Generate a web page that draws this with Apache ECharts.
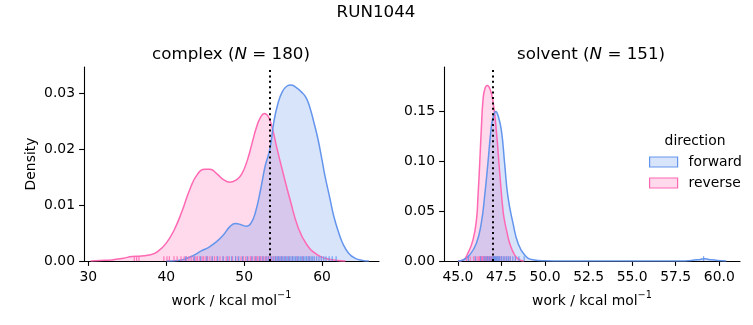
<!DOCTYPE html>
<html>
<head>
<meta charset="utf-8">
<script src="https://cdn.jsdelivr.net/npm/echarts@6/dist/echarts.min.js"></script>
<style>
  html, body { margin: 0; padding: 0; background: #ffffff; }
  #chart { width: 753px; height: 325px; }
</style>
</head>
<body>
<div id="chart"></div>
<script>
// Work distributions (kernel density estimates) for RUN1044, forward vs reverse.

// complex leg: density curves as [work, density]
const complexReverse = [
  [30.3, 0], [31.5, 0.0001], [33.0, 0.0002], [34.5, 0.0005], [35.6, 0.0008], [36.8, 0.0009],
  [38.0, 0.0011], [39.0, 0.0018], [40.0, 0.0032], [41.0, 0.0055], [42.0, 0.0088], [43.0, 0.0127],
  [44.0, 0.0155], [45.0, 0.0164], [45.6, 0.0164], [46.5, 0.0156], [47.3, 0.0146], [48.2, 0.0141],
  [49.0, 0.0145], [49.7, 0.0156], [50.4, 0.0180], [51.0, 0.0210], [51.6, 0.0240], [52.1, 0.0257],
  [52.6, 0.0264], [53.1, 0.0258], [53.6, 0.0238], [54.2, 0.0202], [55.0, 0.0157], [55.9, 0.0109],
  [56.9, 0.0061], [58.0, 0.0030], [59.3, 0.0012], [60.6, 0.0004], [62.0, 0.0001], [63.0, 0]
];
const complexForward = [
  [40.0, 0], [41.5, 0.0001], [42.5, 0.0004], [43.5, 0.0010], [44.5, 0.0018], [45.5, 0.0025],
  [46.5, 0.0035], [47.3, 0.0046], [48.2, 0.0062], [48.9, 0.0067], [49.6, 0.0065], [50.3, 0.0062],
  [50.9, 0.0068], [51.5, 0.0090], [52.1, 0.0127], [52.7, 0.0170], [53.3, 0.0200], [53.8, 0.0248],
  [54.3, 0.0280], [54.9, 0.0303], [55.5, 0.0313], [56.0, 0.0315], [56.6, 0.0311], [57.3, 0.0303],
  [57.9, 0.0293], [58.4, 0.0276], [59.0, 0.0245], [59.5, 0.0216], [60.0, 0.0180], [60.4, 0.0150],
  [61.0, 0.0112], [61.5, 0.0080], [62.1, 0.0052], [62.7, 0.0030], [63.4, 0.0014], [64.2, 0.0005],
  [65.2, 0.0001], [66.0, 0]
];

// solvent leg: density curves as [work, density]
const solventReverse = [
  [45.0, 0], [45.3, 0.001], [45.57, 0.0077], [45.86, 0.021], [46.06, 0.041], [46.15, 0.0646],
  [46.25, 0.098], [46.34, 0.1315], [46.44, 0.1616], [46.55, 0.173], [46.69, 0.176], [46.85, 0.172],
  [47.0, 0.1616], [47.2, 0.1315], [47.4, 0.088], [47.59, 0.050], [47.7, 0.038], [47.8, 0.030],
  [47.97, 0.0178], [48.26, 0.006], [48.55, 0.001], [48.8, 0]
];
const solventForward = [
  [45.0, 0], [45.3, 0.001], [45.67, 0.006], [46.06, 0.0178], [46.34, 0.038], [46.53, 0.0646],
  [46.72, 0.098], [46.92, 0.135], [47.05, 0.146], [47.17, 0.150], [47.3, 0.146], [47.49, 0.1315],
  [47.68, 0.098], [47.87, 0.0646], [48.16, 0.038], [48.45, 0.0178], [48.83, 0.006], [49.3, 0.0012],
  [50.0, 0.0002], [51.0, 0], [57.8, 0], [58.4, 0.0006], [58.9, 0.0016], [59.15, 0.0022],
  [59.4, 0.0016], [59.9, 0.0006], [60.4, 0]
];

// individual work values (rug marks)
const complexReverseRug = [
  35.9, 36.2, 36.5, 39.7, 40.1, 40.4, 41.0, 41.4, 41.9, 42.3, 42.6, 42.9, 43.2, 43.5, 43.8, 44.0,
  44.3, 44.6, 44.8, 45.1, 45.3, 45.6, 45.9, 46.2, 46.5, 46.9, 47.3, 47.7, 48.1, 48.5, 48.9, 49.2,
  49.6, 49.9, 50.2, 50.5, 50.8, 51.0, 51.3, 51.5, 51.7, 51.9, 52.1, 52.3, 52.5, 52.7, 52.9, 53.1,
  53.3, 53.5, 53.8, 54.0, 54.3, 54.6, 54.9, 55.3, 55.7, 56.2, 56.8, 57.5, 58.3
];
const complexForwardRug = [
  42.5, 43.6, 44.4, 45.2, 45.9, 46.6, 47.3, 47.9, 48.4, 48.9, 49.3, 49.8, 50.4, 51.0, 51.5, 52.0,
  52.4, 52.8, 53.1, 53.4, 53.7, 54.0, 54.2, 54.4, 54.6, 54.8, 55.0, 55.2, 55.4, 55.6, 55.8, 56.0,
  56.2, 56.4, 56.6, 56.8, 57.0, 57.2, 57.4, 57.6, 57.8, 58.0, 58.2, 58.4, 58.6, 58.8, 59.0, 59.3,
  59.6, 59.9, 60.2, 60.5, 60.9, 61.3, 61.8
];
const solventReverseRug = [
  45.5, 45.7, 45.9, 46.0, 46.1, 46.2, 46.25, 46.3, 46.35, 46.4, 46.45, 46.5, 46.55, 46.6, 46.65,
  46.7, 46.75, 46.8, 46.85, 46.9, 46.95, 47.0, 47.05, 47.1, 47.2, 47.3, 47.4, 47.5, 47.65, 47.8,
  48.0, 48.3
];
const solventForwardRug = [
  45.6, 46.0, 46.3, 46.5, 46.6, 46.7, 46.8, 46.9, 47.0, 47.05, 47.1, 47.15, 47.2, 47.25, 47.3,
  47.35, 47.4, 47.5, 47.6, 47.7, 47.8, 47.9, 48.0, 48.15, 48.3, 48.5, 48.8, 59.1
];

// reference estimate (dotted vertical line) per leg
const complexMarker = 53.26;
const solventMarker = 47.01;

// axis ticks
const complexXTicks = [30, 40, 50, 60];
const complexYTicks = [0, 0.01, 0.02, 0.03];
const solventXTicks = [45, 47.5, 50, 52.5, 55, 57.5, 60];
const solventYTicks = [0, 0.05, 0.10, 0.15];

const panelTitles = [['complex', 180], ['solvent', 151]];
const directions = ['forward', 'reverse'];

const BLUE = '#6495ED';
const PINK = '#FF69B4';
const FONT = 'DejaVu Sans';
const TICK_FS = 13.9;
const TITLE_FS = 16.7;

const chart = echarts.init(document.getElementById('chart'), null, { renderer: 'canvas' });

const nameRich = {
  n: { fontFamily: FONT, fontSize: TICK_FS, color: '#000', lineHeight: 18, verticalAlign: 'bottom' },
  s: { fontFamily: FONT, fontSize: 9.7, color: '#000', lineHeight: 18, verticalAlign: 'top' }
};

function xAxisCfg(idx, min, max, ticks, fmt) {
  return {
    type: 'value', gridIndex: idx, min: min, max: max,
    name: '{n|work / kcal mol}{s|\u22121}', nameLocation: 'middle', nameGap: 29,
    nameTextStyle: { color: '#000', fontFamily: FONT, fontSize: TICK_FS, rich: nameRich },
    axisLine: { show: true, onZero: false, lineStyle: { color: '#000', width: 1.1 } },
    axisTick: { show: true, length: 4.9, lineStyle: { color: '#000', width: 1.1 }, customValues: ticks },
    axisLabel: { color: '#000', fontFamily: FONT, fontSize: TICK_FS, margin: 9, customValues: ticks, formatter: fmt },
    splitLine: { show: false }
  };
}
function yAxisCfg(idx, max, ticks, name) {
  return {
    type: 'value', gridIndex: idx, min: 0, max: max,
    name: name, nameLocation: 'middle', nameGap: 46,
    nameTextStyle: { color: '#000', fontFamily: FONT, fontSize: TICK_FS },
    axisLine: { show: true, onZero: false, lineStyle: { color: '#000', width: 1.1 } },
    axisTick: { show: true, length: 4.9, lineStyle: { color: '#000', width: 1.1 }, customValues: ticks },
    axisLabel: { color: '#000', fontFamily: FONT, fontSize: TICK_FS, margin: 9, customValues: ticks,
      formatter: v => v.toFixed(2) },
    splitLine: { show: false }
  };
}

function kdeSeries(idx, name, color, data) {
  return {
    type: 'line', name: name, xAxisIndex: idx, yAxisIndex: idx, data: data,
    smooth: 0.5, showSymbol: false, symbol: 'none', silent: true,
    lineStyle: { color: color, width: 1.5 },
    itemStyle: { color: color },
    areaStyle: { color: color, opacity: 0.25 },
    z: 2
  };
}
function rugSeries(idx, name, color, values) {
  return {
    type: 'scatter', name: name + ' rug', xAxisIndex: idx, yAxisIndex: idx,
    data: values.map(v => [v, 0]), symbol: 'rect', symbolSize: [1.2, 4.85], symbolOffset: [0, -2.4],
    itemStyle: { color: color, opacity: 0.85 }, silent: true, z: 3
  };
}
function markerSeries(idx, value) {
  return {
    type: 'line', name: 'marker', xAxisIndex: idx, yAxisIndex: idx, data: [], silent: true, z: 4,
    markLine: {
      silent: true, symbol: ['none', 'none'], label: { show: false }, animation: false,
      lineStyle: { color: '#000', type: [2, 3.4], width: 2 },
      data: [{ xAxis: value }]
    }
  };
}

const titleRich = {
  t: { fontFamily: FONT, fontSize: TITLE_FS, color: '#000', fontWeight: 'normal' },
  i: { fontFamily: FONT, fontSize: TITLE_FS, color: '#000', fontWeight: 'normal', fontStyle: 'italic' }
};
function panelTitle(i) {
  return '{t|' + panelTitles[i][0] + ' (}{i|N}{t| = ' + panelTitles[i][1] + ')}';
}

const option = {
  animation: false,
  backgroundColor: '#ffffff',
  title: [
    { text: 'RUN1044', left: 376, top: 4, padding: 0, textAlign: 'center',
      textStyle: { fontFamily: FONT, fontSize: TITLE_FS, fontWeight: 'normal', color: '#000' } },
    { text: panelTitle(0), left: 231, top: 46, padding: 0, textAlign: 'center',
      textStyle: { fontWeight: 'normal', rich: titleRich } },
    { text: panelTitle(1), left: 591, top: 46, padding: 0, textAlign: 'center',
      textStyle: { fontWeight: 'normal', rich: titleRich } },
    { text: 'direction', left: 695, top: 134, padding: 0, textAlign: 'center',
      textStyle: { fontFamily: FONT, fontSize: TICK_FS, fontWeight: 'normal', color: '#000' } }
  ],
  legend: {
    orient: 'vertical', left: 649, top: 155, padding: 0, itemWidth: 28, itemHeight: 10, itemGap: 7,
    selectedMode: false,
    formatter: '{a|{name}}',
    textStyle: { fontFamily: FONT, fontSize: TICK_FS, color: '#000',
      rich: { a: { fontFamily: FONT, fontSize: TICK_FS, color: '#000', padding: [0, 0, 0, 6] } } },
    data: [
      { name: directions[0], icon: 'rect',
        itemStyle: { color: 'rgba(100,149,237,0.25)', borderColor: BLUE, borderWidth: 1.2 } },
      { name: directions[1], icon: 'rect',
        itemStyle: { color: 'rgba(255,105,180,0.25)', borderColor: PINK, borderWidth: 1.2 } }
    ]
  },
  grid: [
    { left: 84, top: 67, width: 295, height: 194 },
    { left: 444, top: 67, width: 296, height: 194 }
  ],
  xAxis: [
    xAxisCfg(0, 29.45, 67.3, complexXTicks, v => String(v)),
    xAxisCfg(1, 44.2, 61.19, solventXTicks, v => v.toFixed(1))
  ],
  yAxis: [
    yAxisCfg(0, 0.0347, complexYTicks, 'Density'),
    yAxisCfg(1, 0.1946, solventYTicks, '')
  ],
  series: [
    kdeSeries(0, directions[1], PINK, complexReverse),
    kdeSeries(0, directions[0], BLUE, complexForward),
    rugSeries(0, directions[1], PINK, complexReverseRug),
    rugSeries(0, directions[0], BLUE, complexForwardRug),
    markerSeries(0, complexMarker),
    kdeSeries(1, directions[1], PINK, solventReverse),
    kdeSeries(1, directions[0], BLUE, solventForward),
    rugSeries(1, directions[1], PINK, solventReverseRug),
    rugSeries(1, directions[0], BLUE, solventForwardRug),
    markerSeries(1, solventMarker)
  ]
};

chart.setOption(option);
</script>
</body>
</html>
